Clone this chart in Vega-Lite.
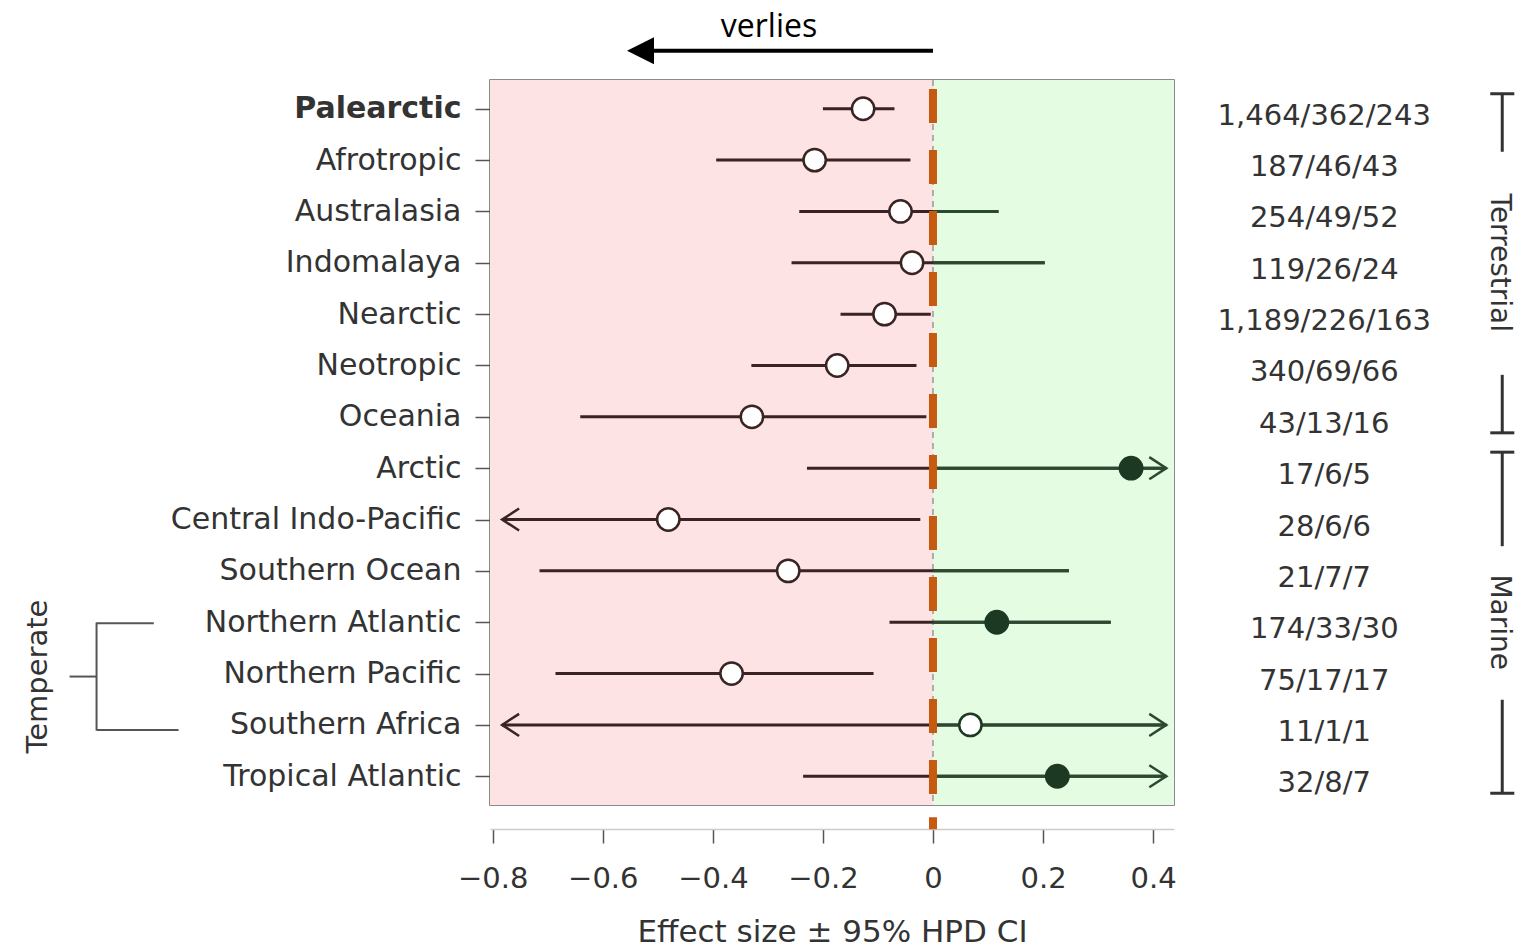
{
  "$schema": "https://vega.github.io/schema/vega-lite/v6.json",
  "autosize": "none",
  "width": 684,
  "height": 725,
  "padding": {"left": 490, "top": 80, "right": 342, "bottom": 147},
  "background": "white",
  "config": {
    "view": {"stroke": "#666", "strokeWidth": 1.5},
    "font": "DejaVu Sans"
  },
  "data": {
    "values": [
      {"region": "Palearctic", "est": -0.127, "lo": -0.200, "hi": -0.070, "filled": false, "lo_arrow": false, "hi_arrow": false, "n": "1,464/362/243"},
      {"region": "Afrotropic", "est": -0.215, "lo": -0.394, "hi": -0.041, "filled": false, "lo_arrow": false, "hi_arrow": false, "n": "187/46/43"},
      {"region": "Australasia", "est": -0.059, "lo": -0.243, "hi": 0.119, "filled": false, "lo_arrow": false, "hi_arrow": false, "n": "254/49/52"},
      {"region": "Indomalaya", "est": -0.038, "lo": -0.257, "hi": 0.203, "filled": false, "lo_arrow": false, "hi_arrow": false, "n": "119/26/24"},
      {"region": "Nearctic", "est": -0.088, "lo": -0.168, "hi": -0.004, "filled": false, "lo_arrow": false, "hi_arrow": false, "n": "1,189/226/163"},
      {"region": "Neotropic", "est": -0.174, "lo": -0.330, "hi": -0.030, "filled": false, "lo_arrow": false, "hi_arrow": false, "n": "340/69/66"},
      {"region": "Oceania", "est": -0.329, "lo": -0.641, "hi": -0.012, "filled": false, "lo_arrow": false, "hi_arrow": false, "n": "43/13/16"},
      {"region": "Arctic", "est": 0.360, "lo": -0.229, "hi": 0.424, "filled": true, "lo_arrow": false, "hi_arrow": true, "n": "17/6/5"},
      {"region": "Central Indo-Pacific", "est": -0.481, "lo": -0.783, "hi": -0.023, "filled": false, "lo_arrow": true, "hi_arrow": false, "n": "28/6/6"},
      {"region": "Southern Ocean", "est": -0.263, "lo": -0.715, "hi": 0.247, "filled": false, "lo_arrow": false, "hi_arrow": false, "n": "21/7/7"},
      {"region": "Northern Atlantic", "est": 0.116, "lo": -0.079, "hi": 0.323, "filled": true, "lo_arrow": false, "hi_arrow": false, "n": "174/33/30"},
      {"region": "Northern Pacific", "est": -0.366, "lo": -0.686, "hi": -0.108, "filled": false, "lo_arrow": false, "hi_arrow": false, "n": "75/17/17"},
      {"region": "Southern Africa", "est": 0.068, "lo": -0.783, "hi": 0.424, "filled": false, "lo_arrow": true, "hi_arrow": true, "n": "11/1/1"},
      {"region": "Tropical Atlantic", "est": 0.226, "lo": -0.236, "hi": 0.424, "filled": true, "lo_arrow": false, "hi_arrow": true, "n": "32/8/7"}
    ]
  },
  "layer": [
    {
      "data": {"values": [{}]},
      "mark": {"type": "rect", "fill": "#fde3e3"},
      "encoding": {"x": {"datum": -0.805, "type": "quantitative"}, "x2": {"datum": 0}, "y": {"value": 0}, "y2": {"value": "height"}}
    },
    {
      "data": {"values": [{}]},
      "mark": {"type": "rect", "fill": "#e4fce2"},
      "encoding": {"x": {"datum": 0, "type": "quantitative"}, "x2": {"datum": 0.438}, "y": {"value": 0}, "y2": {"value": "height"}}
    },
    {
      "data": {"values": [{}]},
      "mark": {"type": "rule", "stroke": "#999", "strokeWidth": 1.5, "strokeDash": [6, 5]},
      "encoding": {"x": {"datum": 0, "type": "quantitative"}}
    },
    {
      "mark": {"type": "rule", "stroke": "#3a2323", "strokeWidth": 3},
      "encoding": {
        "y": {
          "field": "region", "type": "nominal",
          "scale": {"type": "point", "padding": 0.56, "domain": ["Palearctic", "Afrotropic", "Australasia", "Indomalaya", "Nearctic", "Neotropic", "Oceania", "Arctic", "Central Indo-Pacific", "Southern Ocean", "Northern Atlantic", "Northern Pacific", "Southern Africa", "Tropical Atlantic"]},
          "axis": {
            "title": null, "domain": false, "grid": false,
            "tickColor": "#555", "tickSize": 15, "tickWidth": 1.5,
            "labelFont": "DejaVu Sans", "labelFontSize": 30, "labelColor": "#333", "labelPadding": 14, "labelLimit": 500,
            "labelFontWeight": {"condition": {"test": "datum.value === 'Palearctic'", "value": "bold"}, "value": "normal"}
          }
        },
        "x": {
          "field": "lo", "type": "quantitative",
          "scale": {"domain": [-0.805, 0.438], "nice": false, "zero": false},
          "axis": {
            "title": "Effect size ± 95% HPD CI", "offset": 24, "grid": false,
            "values": [-0.8, -0.6, -0.4, -0.2, 0, 0.2, 0.4], "format": "~g",
            "domainColor": "#ccc", "domainWidth": 1.5,
            "tickColor": "#555", "tickSize": 14, "tickWidth": 1.5,
            "labelFont": "DejaVu Sans", "labelFontSize": 29, "labelColor": "#333", "labelPadding": 21,
            "titleFont": "DejaVu Sans", "titleFontSize": 31, "titleFontWeight": "normal", "titleColor": "#333", "titlePadding": 24
          }
        },
        "x2": {"field": "hi"}
      }
    },
    {
      "transform": [{"filter": "datum.hi > 0"}],
      "mark": {"type": "rule", "stroke": "#2b4931", "strokeWidth": 3},
      "encoding": {
        "y": {"field": "region", "type": "nominal"},
        "x": {"field": "hi", "type": "quantitative"},
        "x2": {"datum": 0}
      }
    },
    {
      "data": {"values": [{}]},
      "mark": {"type": "rule", "stroke": "#c65a10", "strokeWidth": 8, "strokeDash": [34, 27], "strokeDashOffset": 52, "strokeCap": "butt"},
      "encoding": {"x": {"datum": 0, "type": "quantitative"}}
    },
    {
      "data": {"values": [{}]},
      "mark": {"type": "tick", "orient": "vertical", "color": "#c65a10", "size": 12, "thickness": 8, "opacity": 1, "yOffset": 47},
      "encoding": {"x": {"datum": 0, "type": "quantitative"}, "y": {"datum": "Tropical Atlantic", "type": "nominal"}}
    },
    {
      "mark": {"type": "circle", "size": 500, "strokeWidth": 2.5, "opacity": 1},
      "encoding": {
        "y": {"field": "region", "type": "nominal"},
        "x": {"field": "est", "type": "quantitative"},
        "fill": {"condition": {"test": "datum.filled", "value": "#1c3a23"}, "value": "white"},
        "stroke": {"condition": {"test": "datum.est > 0", "value": "#1c3a23"}, "value": "#3a2323"}
      }
    },
    {
      "transform": [{"filter": "datum.hi_arrow"}],
      "mark": {"type": "point", "shape": "M-1,-0.65L0,0L-1,0.65", "size": 1156, "filled": false, "stroke": "#2b4931", "strokeWidth": 2.5, "opacity": 1},
      "encoding": {
        "y": {"field": "region", "type": "nominal"},
        "x": {"field": "hi", "type": "quantitative"}
      }
    },
    {
      "transform": [{"filter": "datum.lo_arrow"}],
      "mark": {"type": "point", "shape": "M1,-0.65L0,0L1,0.65", "size": 1156, "filled": false, "stroke": "#3a2323", "strokeWidth": 2.5, "opacity": 1},
      "encoding": {
        "y": {"field": "region", "type": "nominal"},
        "x": {"field": "lo", "type": "quantitative"}
      }
    },
    {
      "mark": {"type": "text", "font": "DejaVu Sans", "fontSize": 29, "color": "#333", "align": "center", "baseline": "middle", "dy": 7},
      "encoding": {
        "y": {"field": "region", "type": "nominal"},
        "x": {"datum": 0.711, "type": "quantitative"},
        "text": {"field": "n"}
      }
    },
    {
      "data": {"values": [{}]},
      "mark": {"type": "rule", "stroke": "#333", "strokeWidth": 3, "yOffset": -15},
      "encoding": {"x": {"datum": 1.0127, "type": "quantitative"}, "x2": {"datum": 1.0564}, "y": {"datum": "Palearctic", "type": "nominal"}}
    },
    {
      "data": {"values": [{}]},
      "mark": {"type": "tick", "orient": "vertical", "color": "#333", "size": 58, "thickness": 3, "opacity": 1, "yOffset": 14},
      "encoding": {"x": {"datum": 1.0345, "type": "quantitative"}, "y": {"datum": "Palearctic", "type": "nominal"}}
    },
    {
      "data": {"values": [{}]},
      "mark": {"type": "text", "text": "Terrestrial", "angle": 90, "font": "DejaVu Sans", "fontSize": 28, "color": "#333", "align": "center", "baseline": "middle"},
      "encoding": {"x": {"datum": 1.029, "type": "quantitative"}, "y": {"datum": "Indomalaya", "type": "nominal"}}
    },
    {
      "data": {"values": [{}]},
      "mark": {"type": "tick", "orient": "vertical", "color": "#333", "size": 58, "thickness": 3, "opacity": 1, "yOffset": -13},
      "encoding": {"x": {"datum": 1.0345, "type": "quantitative"}, "y": {"datum": "Oceania", "type": "nominal"}}
    },
    {
      "data": {"values": [{}]},
      "mark": {"type": "rule", "stroke": "#333", "strokeWidth": 3, "yOffset": 16},
      "encoding": {"x": {"datum": 1.0127, "type": "quantitative"}, "x2": {"datum": 1.0564}, "y": {"datum": "Oceania", "type": "nominal"}}
    },
    {
      "data": {"values": [{}]},
      "mark": {"type": "rule", "stroke": "#333", "strokeWidth": 3, "yOffset": -16},
      "encoding": {"x": {"datum": 1.0127, "type": "quantitative"}, "x2": {"datum": 1.0564}, "y": {"datum": "Arctic", "type": "nominal"}}
    },
    {
      "data": {"values": [{}]},
      "mark": {"type": "tick", "orient": "vertical", "color": "#333", "size": 94, "thickness": 3, "opacity": 1, "yOffset": 31},
      "encoding": {"x": {"datum": 1.0345, "type": "quantitative"}, "y": {"datum": "Arctic", "type": "nominal"}}
    },
    {
      "data": {"values": [{}]},
      "mark": {"type": "text", "text": "Marine", "angle": 90, "font": "DejaVu Sans", "fontSize": 28, "color": "#333", "align": "center", "baseline": "middle"},
      "encoding": {"x": {"datum": 1.029, "type": "quantitative"}, "y": {"datum": "Northern Atlantic", "type": "nominal"}}
    },
    {
      "data": {"values": [{}]},
      "mark": {"type": "tick", "orient": "vertical", "color": "#333", "size": 93, "thickness": 3, "opacity": 1, "yOffset": -30},
      "encoding": {"x": {"datum": 1.0345, "type": "quantitative"}, "y": {"datum": "Tropical Atlantic", "type": "nominal"}}
    },
    {
      "data": {"values": [{}]},
      "mark": {"type": "rule", "stroke": "#333", "strokeWidth": 3, "yOffset": 17},
      "encoding": {"x": {"datum": 1.0127, "type": "quantitative"}, "x2": {"datum": 1.0564}, "y": {"datum": "Tropical Atlantic", "type": "nominal"}}
    },
    {
      "data": {"values": [{}]},
      "mark": {"type": "rule", "stroke": "#555", "strokeWidth": 2, "yOffset": 3},
      "encoding": {"x": {"datum": -1.569, "type": "quantitative"}, "x2": {"datum": -1.52}, "y": {"datum": "Northern Pacific", "type": "nominal"}}
    },
    {
      "data": {"values": [{}]},
      "mark": {"type": "tick", "orient": "vertical", "color": "#555", "size": 108, "thickness": 2, "opacity": 1, "yOffset": 3},
      "encoding": {"x": {"datum": -1.52, "type": "quantitative"}, "y": {"datum": "Northern Pacific", "type": "nominal"}}
    },
    {
      "data": {"values": [{}]},
      "mark": {"type": "rule", "stroke": "#555", "strokeWidth": 2, "yOffset": 1},
      "encoding": {"x": {"datum": -1.52, "type": "quantitative"}, "x2": {"datum": -1.416}, "y": {"datum": "Northern Atlantic", "type": "nominal"}}
    },
    {
      "data": {"values": [{}]},
      "mark": {"type": "rule", "stroke": "#555", "strokeWidth": 2, "yOffset": 5},
      "encoding": {"x": {"datum": -1.52, "type": "quantitative"}, "x2": {"datum": -1.371}, "y": {"datum": "Southern Africa", "type": "nominal"}}
    },
    {
      "data": {"values": [{}]},
      "mark": {"type": "text", "text": "Temperate", "angle": 270, "font": "DejaVu Sans", "fontSize": 29, "color": "#333", "align": "center", "baseline": "middle", "yOffset": 3},
      "encoding": {"x": {"datum": -1.6255, "type": "quantitative"}, "y": {"datum": "Northern Pacific", "type": "nominal"}}
    },
    {
      "data": {"values": [{}]},
      "mark": {"type": "rule", "stroke": "black", "strokeWidth": 4, "yOffset": -58},
      "encoding": {"x": {"datum": 0, "type": "quantitative"}, "x2": {"datum": -0.51}, "y": {"datum": "Palearctic", "type": "nominal"}}
    },
    {
      "data": {"values": [{}]},
      "mark": {"type": "point", "shape": "M0,0L1,-0.5L1,0.5Z", "size": 2916, "filled": true, "fill": "black", "opacity": 1, "yOffset": -58},
      "encoding": {"x": {"datum": -0.556, "type": "quantitative"}, "y": {"datum": "Palearctic", "type": "nominal"}}
    },
    {
      "data": {"values": [{}]},
      "mark": {"type": "text", "text": "verlies", "font": "Open Sans", "fontSize": 32, "color": "black", "align": "center", "baseline": "alphabetic", "yOffset": -72},
      "encoding": {"x": {"datum": -0.298, "type": "quantitative"}, "y": {"datum": "Palearctic", "type": "nominal"}}
    }
  ]
}
